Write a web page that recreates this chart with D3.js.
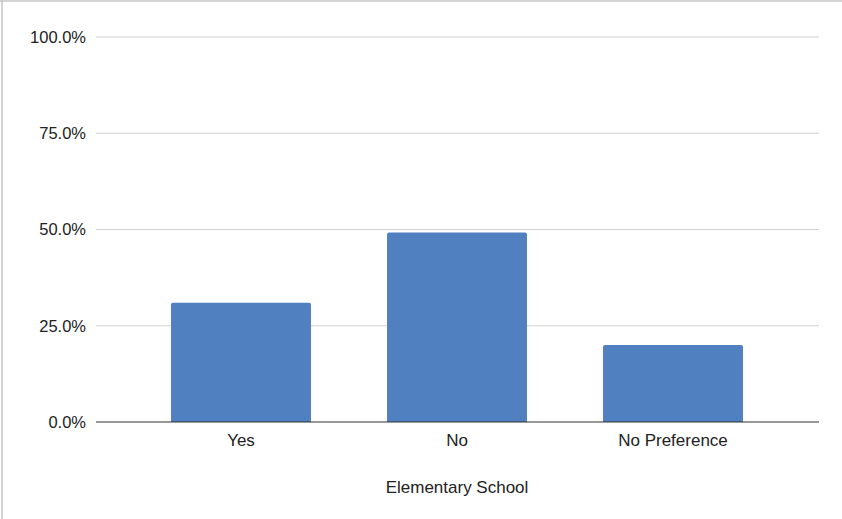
<!DOCTYPE html>
<html><head><meta charset="utf-8">
<script src="https://cdn.jsdelivr.net/npm/d3@7"></script>
<style>body{margin:0;background:#fff}svg{display:block}text{font-family:"Liberation Sans",Arial,sans-serif;fill:#222}</style>
</head><body>
<script>
const categories = ["Yes", "No", "No Preference"];
const values = [0.31, 0.492, 0.20];
const yTicks = [0, 0.25, 0.5, 0.75, 1.0];
const xTitle = "Elementary School";

const W = 842, H = 519;
const svg = d3.select("body").append("svg").attr("width", W).attr("height", H);

// border (top + left)
svg.append("line").attr("x1",0).attr("x2",W).attr("y1",1).attr("y2",1).attr("stroke","#c4c4c4").attr("stroke-width",1.5);
svg.append("line").attr("x1",2).attr("x2",2).attr("y1",0).attr("y2",H).attr("stroke","#c4c4c4").attr("stroke-width",1.5);

const plotL = 96, plotR = 819;
const y = d3.scaleLinear().domain([0,1]).range([422,37]);
const x = d3.scaleBand().domain(categories).range([133,781]).paddingInner(0.352).paddingOuter(0.176);

const yAxis = d3.axisLeft(y).tickValues(yTicks).tickFormat(d3.format(".1%")).tickSize(0).tickPadding(10);
const gy = svg.append("g").attr("transform",`translate(${plotL},0)`).call(yAxis);
gy.select(".domain").remove();
gy.selectAll("text").attr("font-size",16.5).attr("fill","#222").style("font-family",'"Liberation Sans",Arial,sans-serif');
svg.append("g").selectAll("line").data(yTicks.filter(d=>d>0)).join("line")
  .attr("x1",plotL).attr("x2",plotR).attr("y1",d=>y(d)).attr("y2",d=>y(d))
  .attr("stroke","#d0d0d0").attr("stroke-width",1);

const r = 2;
svg.append("g").selectAll("path").data(values).join("path")
  .attr("fill","#5180c1")
  .attr("d",(d,i)=>{
    const x0 = x(categories[i]), w = x.bandwidth(), y0 = y(d), yb = y(0);
    return `M${x0},${yb}V${y0+r}Q${x0},${y0} ${x0+r},${y0}H${x0+w-r}Q${x0+w},${y0} ${x0+w},${y0+r}V${yb}Z`;
  });

svg.append("line").attr("x1",plotL).attr("x2",plotR).attr("y1",y(0)).attr("y2",y(0)).attr("stroke","#333").attr("stroke-width",1.2);
const xAxis = d3.axisBottom(x).tickSize(0).tickPadding(0);
const gx = svg.append("g").attr("transform",`translate(0,${y(0)})`).call(xAxis);
gx.select(".domain").remove();
gx.selectAll("text").attr("font-size",17).attr("fill","#222").attr("dy",null).attr("y",24)
  .style("font-family",'"Liberation Sans",Arial,sans-serif');

svg.append("text").attr("x",457).attr("y",493).attr("text-anchor","middle").attr("font-size",17).text(xTitle);
</script>
</body></html>
